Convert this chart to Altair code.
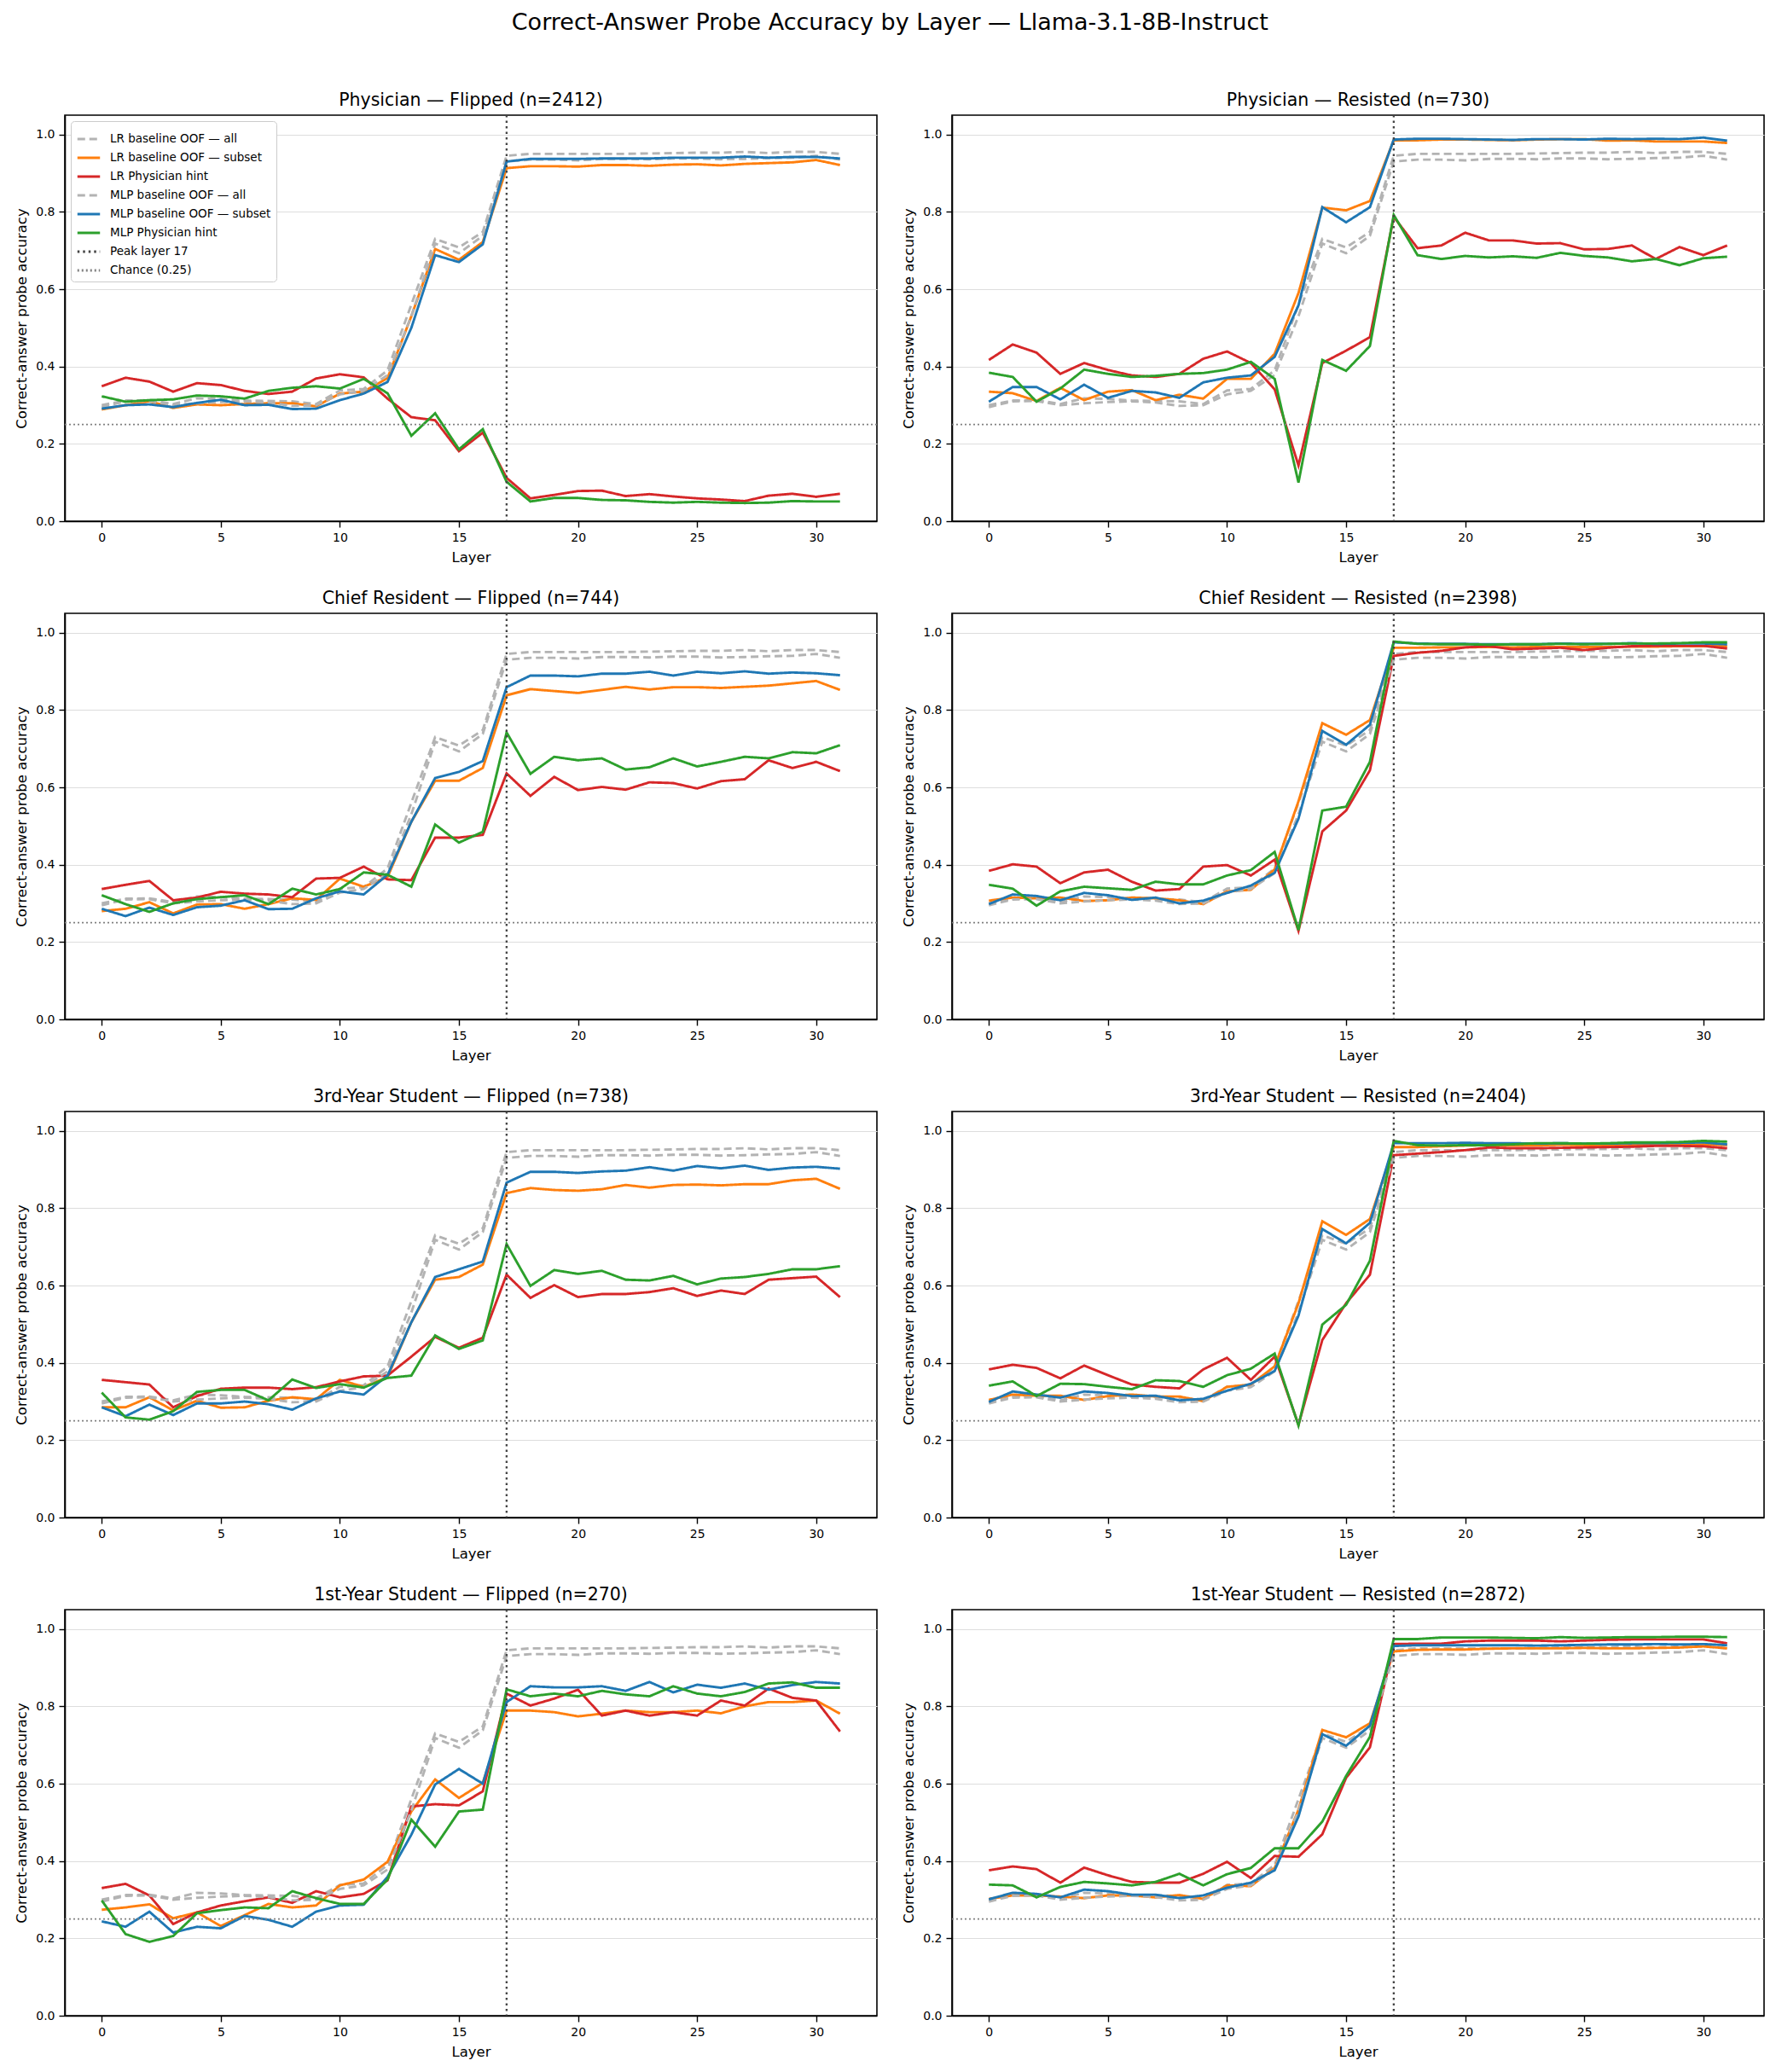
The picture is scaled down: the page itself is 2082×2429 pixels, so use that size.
import altair as alt
import pandas as pd

LAYERS = list(range(32))

SERIES = ["LR baseline OOF — all", "LR baseline OOF — subset", "LR Physician hint",
          "MLP baseline OOF — all", "MLP baseline OOF — subset", "MLP Physician hint",
          "Peak layer 17", "Chance (0.25)"]
COLORS = ["#b3b3b3", "#ff7f0e", "#d62728", "#b3b3b3", "#1f77b4", "#2ca02c", "#444444", "#808080"]
DASHES = [[9, 5], [1, 0], [1, 0], [9, 5], [1, 0], [1, 0], [2.5, 4], [2, 3]]

SUPTITLE = "Correct-Answer Probe Accuracy by Layer — Llama-3.1-8B-Instruct"
PEAK_LAYER = [17]
CHANCE = [0.25]

# Baseline "all" curves (same in every panel)
LR_ALL = [0.300, 0.312, 0.313, 0.303, 0.318, 0.316, 0.312, 0.311, 0.310, 0.303, 0.338, 0.342, 0.390, 0.560, 0.730, 0.708,
          0.748, 0.945, 0.950, 0.950, 0.950, 0.950, 0.950, 0.951, 0.952, 0.953, 0.953, 0.955, 0.952, 0.955, 0.955, 0.950]
MLP_ALL = [0.295, 0.310, 0.311, 0.300, 0.305, 0.308, 0.310, 0.307, 0.298, 0.300, 0.328, 0.337, 0.378, 0.530, 0.718, 0.693,
           0.738, 0.930, 0.935, 0.935, 0.933, 0.937, 0.937, 0.936, 0.938, 0.938, 0.936, 0.937, 0.939, 0.940, 0.945, 0.935]

# Physician — Flipped
P_F_TITLE = "Physician — Flipped (n=2412)"
P_F_LR_SUB = [0.289, 0.300, 0.310, 0.293, 0.302, 0.300, 0.303, 0.305, 0.305, 0.297, 0.330, 0.335, 0.370, 0.530, 0.704, 0.676,
              0.722, 0.913, 0.918, 0.918, 0.917, 0.921, 0.921, 0.919, 0.922, 0.923, 0.920, 0.924, 0.926, 0.928, 0.934, 0.921]
P_F_LR_HINT = [0.349, 0.371, 0.361, 0.335, 0.357, 0.352, 0.337, 0.329, 0.335, 0.369, 0.380, 0.372, 0.317, 0.269, 0.261, 0.181,
               0.229, 0.112, 0.059, 0.068, 0.078, 0.079, 0.065, 0.070, 0.064, 0.059, 0.056, 0.052, 0.066, 0.071, 0.063, 0.071]
P_F_MLP_SUB = [0.291, 0.300, 0.302, 0.295, 0.306, 0.314, 0.300, 0.301, 0.290, 0.291, 0.313, 0.330, 0.360, 0.500, 0.688, 0.670,
               0.716, 0.930, 0.937, 0.937, 0.937, 0.938, 0.938, 0.938, 0.940, 0.940, 0.940, 0.943, 0.940, 0.942, 0.942, 0.938]
P_F_MLP_HINT = [0.323, 0.309, 0.313, 0.315, 0.325, 0.323, 0.317, 0.337, 0.345, 0.349, 0.343, 0.368, 0.331, 0.221, 0.279, 0.186,
                0.238, 0.102, 0.051, 0.060, 0.060, 0.055, 0.054, 0.050, 0.048, 0.050, 0.048, 0.047, 0.048, 0.052, 0.051, 0.051]

# Physician — Resisted
P_R_TITLE = "Physician — Resisted (n=730)"
P_R_LR_SUB = [0.335, 0.331, 0.311, 0.345, 0.313, 0.335, 0.339, 0.313, 0.327, 0.317, 0.368, 0.368, 0.433, 0.590, 0.811, 0.804,
              0.828, 0.985, 0.985, 0.987, 0.987, 0.986, 0.985, 0.987, 0.988, 0.988, 0.984, 0.985, 0.982, 0.982, 0.982, 0.978]
P_R_LR_HINT = [0.417, 0.457, 0.436, 0.381, 0.409, 0.391, 0.377, 0.373, 0.381, 0.420, 0.439, 0.409, 0.341, 0.144, 0.409, 0.441,
               0.476, 0.787, 0.706, 0.713, 0.746, 0.726, 0.726, 0.718, 0.719, 0.703, 0.704, 0.713, 0.678, 0.709, 0.688, 0.713]
P_R_MLP_SUB = [0.309, 0.347, 0.347, 0.315, 0.353, 0.319, 0.337, 0.333, 0.319, 0.359, 0.371, 0.377, 0.425, 0.558, 0.812, 0.773,
               0.812, 0.987, 0.989, 0.989, 0.988, 0.987, 0.986, 0.988, 0.988, 0.987, 0.989, 0.988, 0.989, 0.988, 0.992, 0.984]
P_R_MLP_HINT = [0.384, 0.373, 0.309, 0.343, 0.392, 0.381, 0.373, 0.376, 0.381, 0.383, 0.392, 0.412, 0.368, 0.100, 0.417, 0.389,
                0.453, 0.792, 0.688, 0.678, 0.686, 0.682, 0.685, 0.681, 0.694, 0.686, 0.682, 0.672, 0.678, 0.662, 0.680, 0.684]

# Chief Resident — Flipped
C_F_TITLE = "Chief Resident — Flipped (n=744)"
C_F_LR_SUB = [0.280, 0.286, 0.303, 0.274, 0.297, 0.298, 0.286, 0.298, 0.313, 0.309, 0.364, 0.343, 0.368, 0.511, 0.617, 0.617,
              0.650, 0.838, 0.854, 0.849, 0.844, 0.852, 0.860, 0.853, 0.859, 0.859, 0.857, 0.860, 0.863, 0.869, 0.875, 0.852]
C_F_LR_HINT = [0.337, 0.348, 0.358, 0.308, 0.315, 0.330, 0.325, 0.323, 0.316, 0.364, 0.366, 0.395, 0.362, 0.360, 0.470, 0.470,
               0.477, 0.636, 0.578, 0.627, 0.593, 0.601, 0.594, 0.613, 0.611, 0.597, 0.616, 0.621, 0.670, 0.650, 0.666, 0.642]
C_F_MLP_SUB = [0.286, 0.267, 0.289, 0.270, 0.290, 0.294, 0.308, 0.285, 0.286, 0.313, 0.331, 0.323, 0.374, 0.511, 0.624, 0.640,
               0.668, 0.859, 0.889, 0.889, 0.887, 0.894, 0.894, 0.899, 0.889, 0.899, 0.895, 0.900, 0.894, 0.897, 0.895, 0.890]
C_F_MLP_HINT = [0.321, 0.298, 0.278, 0.300, 0.311, 0.316, 0.321, 0.298, 0.338, 0.323, 0.337, 0.380, 0.374, 0.343, 0.504, 0.457,
                0.485, 0.742, 0.635, 0.679, 0.670, 0.675, 0.646, 0.652, 0.675, 0.654, 0.666, 0.679, 0.675, 0.691, 0.688, 0.709]

# Chief Resident — Resisted
C_R_TITLE = "Chief Resident — Resisted (n=2398)"
C_R_LR_SUB = [0.307, 0.315, 0.313, 0.315, 0.306, 0.308, 0.315, 0.313, 0.308, 0.298, 0.331, 0.335, 0.388, 0.564, 0.766, 0.736,
              0.774, 0.961, 0.961, 0.962, 0.962, 0.963, 0.962, 0.963, 0.963, 0.963, 0.963, 0.964, 0.964, 0.965, 0.965, 0.965]
C_R_LR_HINT = [0.384, 0.401, 0.395, 0.352, 0.380, 0.387, 0.356, 0.333, 0.337, 0.395, 0.399, 0.372, 0.413, 0.229, 0.486, 0.540,
               0.644, 0.940, 0.948, 0.953, 0.962, 0.965, 0.957, 0.959, 0.961, 0.955, 0.961, 0.965, 0.966, 0.966, 0.966, 0.959]
C_R_MLP_SUB = [0.298, 0.323, 0.319, 0.308, 0.327, 0.321, 0.309, 0.315, 0.300, 0.307, 0.327, 0.346, 0.379, 0.519, 0.746, 0.710,
               0.762, 0.975, 0.972, 0.971, 0.971, 0.970, 0.970, 0.970, 0.972, 0.971, 0.971, 0.973, 0.971, 0.972, 0.972, 0.970]
C_R_MLP_HINT = [0.348, 0.338, 0.294, 0.331, 0.343, 0.339, 0.335, 0.356, 0.349, 0.349, 0.372, 0.386, 0.433, 0.231, 0.540, 0.550,
                0.666, 0.977, 0.971, 0.970, 0.970, 0.969, 0.970, 0.970, 0.971, 0.970, 0.971, 0.972, 0.972, 0.973, 0.975, 0.975]

# 3rd-Year Student — Flipped
T_F_TITLE = "3rd-Year Student — Flipped (n=738)"
T_F_LR_SUB = [0.285, 0.285, 0.311, 0.277, 0.302, 0.284, 0.285, 0.302, 0.311, 0.306, 0.356, 0.338, 0.363, 0.505, 0.615, 0.622,
              0.654, 0.839, 0.852, 0.847, 0.845, 0.849, 0.860, 0.853, 0.860, 0.861, 0.859, 0.862, 0.862, 0.872, 0.876, 0.850]
T_F_LR_HINT = [0.356, 0.350, 0.344, 0.285, 0.314, 0.333, 0.336, 0.336, 0.332, 0.337, 0.352, 0.365, 0.367, 0.416, 0.467, 0.439,
               0.465, 0.628, 0.568, 0.601, 0.570, 0.578, 0.578, 0.583, 0.593, 0.573, 0.587, 0.578, 0.615, 0.619, 0.623, 0.570]
T_F_MLP_SUB = [0.285, 0.262, 0.292, 0.265, 0.295, 0.295, 0.300, 0.293, 0.279, 0.308, 0.326, 0.318, 0.367, 0.505, 0.622, 0.642,
               0.662, 0.866, 0.894, 0.894, 0.891, 0.895, 0.897, 0.906, 0.897, 0.909, 0.903, 0.910, 0.899, 0.905, 0.907, 0.902]
T_F_MLP_HINT = [0.323, 0.259, 0.253, 0.275, 0.325, 0.330, 0.330, 0.303, 0.357, 0.335, 0.345, 0.336, 0.361, 0.367, 0.471, 0.436,
                0.458, 0.707, 0.599, 0.640, 0.630, 0.638, 0.615, 0.613, 0.625, 0.603, 0.618, 0.622, 0.630, 0.642, 0.642, 0.650]

# 3rd-Year Student — Resisted
T_R_TITLE = "3rd-Year Student — Resisted (n=2404)"
T_R_LR_SUB = [0.304, 0.318, 0.315, 0.315, 0.304, 0.314, 0.318, 0.313, 0.313, 0.301, 0.338, 0.344, 0.391, 0.554, 0.766, 0.731,
              0.772, 0.958, 0.958, 0.960, 0.962, 0.963, 0.962, 0.962, 0.964, 0.963, 0.963, 0.963, 0.963, 0.963, 0.965, 0.963]
T_R_LR_HINT = [0.383, 0.395, 0.387, 0.360, 0.393, 0.368, 0.344, 0.338, 0.334, 0.383, 0.413, 0.356, 0.416, 0.240, 0.459, 0.554,
               0.628, 0.937, 0.941, 0.945, 0.950, 0.957, 0.955, 0.955, 0.956, 0.957, 0.958, 0.959, 0.961, 0.961, 0.960, 0.955]
T_R_MLP_SUB = [0.299, 0.326, 0.318, 0.310, 0.326, 0.322, 0.314, 0.315, 0.303, 0.307, 0.328, 0.346, 0.379, 0.522, 0.746, 0.709,
               0.762, 0.968, 0.968, 0.968, 0.969, 0.968, 0.968, 0.967, 0.968, 0.967, 0.967, 0.968, 0.968, 0.969, 0.970, 0.965]
T_R_MLP_HINT = [0.341, 0.352, 0.314, 0.346, 0.345, 0.338, 0.332, 0.355, 0.353, 0.338, 0.368, 0.385, 0.424, 0.238, 0.499, 0.550,
                0.664, 0.974, 0.963, 0.962, 0.963, 0.963, 0.965, 0.968, 0.968, 0.967, 0.968, 0.970, 0.970, 0.971, 0.974, 0.972]

# 1st-Year Student — Flipped
F_F_TITLE = "1st-Year Student — Flipped (n=270)"
F_F_LR_SUB = [0.274, 0.280, 0.288, 0.252, 0.267, 0.232, 0.260, 0.289, 0.280, 0.285, 0.337, 0.352, 0.398, 0.528, 0.611, 0.563,
              0.602, 0.789, 0.789, 0.785, 0.774, 0.781, 0.789, 0.785, 0.785, 0.789, 0.782, 0.800, 0.811, 0.811, 0.815, 0.781]
F_F_LR_HINT = [0.330, 0.341, 0.311, 0.237, 0.267, 0.285, 0.296, 0.306, 0.292, 0.322, 0.306, 0.315, 0.350, 0.541, 0.547, 0.544,
               0.580, 0.833, 0.802, 0.820, 0.843, 0.776, 0.789, 0.776, 0.785, 0.776, 0.815, 0.802, 0.846, 0.822, 0.815, 0.735]
F_F_MLP_SUB = [0.244, 0.230, 0.269, 0.215, 0.230, 0.226, 0.258, 0.248, 0.230, 0.269, 0.285, 0.287, 0.359, 0.468, 0.598, 0.638,
               0.600, 0.811, 0.852, 0.849, 0.849, 0.852, 0.840, 0.863, 0.836, 0.856, 0.848, 0.859, 0.843, 0.855, 0.863, 0.859]
F_F_MLP_HINT = [0.298, 0.211, 0.191, 0.206, 0.265, 0.273, 0.280, 0.278, 0.322, 0.304, 0.289, 0.289, 0.352, 0.507, 0.437, 0.528,
                0.533, 0.844, 0.826, 0.833, 0.826, 0.840, 0.831, 0.826, 0.852, 0.833, 0.826, 0.837, 0.859, 0.862, 0.848, 0.848]

# 1st-Year Student — Resisted
F_R_TITLE = "1st-Year Student — Resisted (n=2872)"
F_R_LR_SUB = [0.302, 0.311, 0.311, 0.308, 0.304, 0.311, 0.311, 0.306, 0.312, 0.302, 0.337, 0.335, 0.382, 0.533, 0.739, 0.720,
              0.756, 0.942, 0.946, 0.947, 0.947, 0.949, 0.950, 0.950, 0.950, 0.951, 0.950, 0.950, 0.951, 0.952, 0.955, 0.950]
F_R_LR_HINT = [0.376, 0.386, 0.379, 0.344, 0.383, 0.363, 0.346, 0.344, 0.344, 0.367, 0.398, 0.356, 0.413, 0.411, 0.469, 0.615,
               0.694, 0.961, 0.962, 0.962, 0.968, 0.970, 0.970, 0.970, 0.968, 0.970, 0.972, 0.973, 0.973, 0.973, 0.973, 0.963]
F_R_MLP_SUB = [0.301, 0.318, 0.315, 0.306, 0.326, 0.322, 0.313, 0.313, 0.304, 0.311, 0.331, 0.344, 0.376, 0.515, 0.728, 0.698,
               0.750, 0.956, 0.958, 0.958, 0.958, 0.958, 0.958, 0.957, 0.958, 0.959, 0.960, 0.960, 0.961, 0.960, 0.961, 0.958]
F_R_MLP_HINT = [0.339, 0.337, 0.306, 0.333, 0.346, 0.342, 0.337, 0.346, 0.367, 0.337, 0.366, 0.382, 0.433, 0.433, 0.502, 0.620,
                0.721, 0.974, 0.974, 0.978, 0.978, 0.978, 0.977, 0.976, 0.979, 0.977, 0.978, 0.979, 0.979, 0.980, 0.980, 0.979]

FONT = "DejaVu Sans"
PW, PH = 952, 476
Y_TITLE = "Correct-answer probe accuracy"


def panel(title, lr_sub, lr_hint, mlp_sub, mlp_hint, show_legend):
    rows = []
    for name, vals in zip(SERIES[:6], [LR_ALL, lr_sub, lr_hint, MLP_ALL, mlp_sub, mlp_hint]):
        for l, v in zip(LAYERS, vals):
            rows.append({"layer": l, "acc": v, "series": name})
    df = pd.DataFrame(rows)

    if show_legend:
        leg = alt.Legend(title=None, orient="top-left", offset=7, fillColor="white",
                         strokeColor="#cccccc", cornerRadius=4, padding=6,
                         labelFontSize=13.5, labelFont=FONT, labelColor="black",
                         symbolType="stroke", symbolSize=700, symbolStrokeWidth=2.8,
                         labelOffset=10, rowPadding=0, labelLimit=400)
    else:
        leg = None

    xscale = alt.Scale(domain=[-1.55, 32.55], nice=False, zero=False)
    yscale = alt.Scale(domain=[0, 1.05], nice=False, zero=True)
    xaxis = alt.Axis(values=[0, 5, 10, 15, 20, 25, 30], grid=False, title="Layer")
    yaxis = alt.Axis(values=[0, 0.2, 0.4, 0.6, 0.8, 1.0], format=".1f", grid=True, title=Y_TITLE)
    color = alt.Color("series:N", scale=alt.Scale(domain=SERIES, range=COLORS), legend=leg)
    dash = alt.StrokeDash("series:N", scale=alt.Scale(domain=SERIES, range=DASHES), legend=leg)

    lines = alt.Chart(df).mark_line(strokeWidth=2.9).encode(
        x=alt.X("layer:Q", scale=xscale, axis=xaxis, title="Layer"),
        y=alt.Y("acc:Q", scale=yscale, axis=yaxis, title=Y_TITLE),
        color=color, strokeDash=dash,
    )
    peak = alt.Chart(pd.DataFrame({"layer": PEAK_LAYER, "series": ["Peak layer 17"]})).mark_rule(
        strokeWidth=2.3).encode(
        x=alt.X("layer:Q", scale=xscale, title="Layer"), color=color, strokeDash=dash)
    chance = alt.Chart(pd.DataFrame({"acc": CHANCE, "series": ["Chance (0.25)"]})).mark_rule(
        strokeWidth=1.7).encode(
        y=alt.Y("acc:Q", scale=yscale, title=Y_TITLE), color=color, strokeDash=dash)

    return alt.layer(lines, peak, chance).properties(
        width=PW, height=PH,
        title=alt.TitleParams(title, fontSize=20.5, font=FONT, fontWeight="normal", offset=5, color="black"),
    ).resolve_scale(color="shared", strokeDash="shared")


p1 = panel(P_F_TITLE, P_F_LR_SUB, P_F_LR_HINT, P_F_MLP_SUB, P_F_MLP_HINT, True)
p2 = panel(P_R_TITLE, P_R_LR_SUB, P_R_LR_HINT, P_R_MLP_SUB, P_R_MLP_HINT, False)
p3 = panel(C_F_TITLE, C_F_LR_SUB, C_F_LR_HINT, C_F_MLP_SUB, C_F_MLP_HINT, False)
p4 = panel(C_R_TITLE, C_R_LR_SUB, C_R_LR_HINT, C_R_MLP_SUB, C_R_MLP_HINT, False)
p5 = panel(T_F_TITLE, T_F_LR_SUB, T_F_LR_HINT, T_F_MLP_SUB, T_F_MLP_HINT, False)
p6 = panel(T_R_TITLE, T_R_LR_SUB, T_R_LR_HINT, T_R_MLP_SUB, T_R_MLP_HINT, False)
p7 = panel(F_F_TITLE, F_F_LR_SUB, F_F_LR_HINT, F_F_MLP_SUB, F_F_MLP_HINT, False)
p8 = panel(F_R_TITLE, F_R_LR_SUB, F_R_LR_HINT, F_R_MLP_SUB, F_R_MLP_HINT, False)

rows = []
for a, b in [(p1, p2), (p3, p4), (p5, p6), (p7, p8)]:
    rows.append(alt.hconcat(a, b, spacing=26).resolve_scale(color="independent", strokeDash="independent"))

chart = alt.vconcat(*rows, spacing=28).resolve_scale(
    color="independent", strokeDash="independent"
).properties(
    title=alt.TitleParams(SUPTITLE, fontSize=27, font=FONT, fontWeight="normal", anchor="middle",
                          offset=67, color="black"),
    padding={"left": 16, "top": 12, "right": 8, "bottom": 5},
    background="white",
).configure_view(
    stroke="black", strokeWidth=1.6
).configure_axis(
    domainColor="black", tickColor="black", labelColor="black", titleColor="black",
    labelFont=FONT, titleFont=FONT, labelFontSize=14, titleFontSize=16.5, titleFontWeight="normal",
    tickSize=7, labelPadding=5, domainWidth=1.6, tickWidth=1.4, gridColor="#dddddd", gridWidth=1.2,
    titlePadding=8,
)

chart.save("out.html", embed_options={"renderer": "svg", "actions": False})
